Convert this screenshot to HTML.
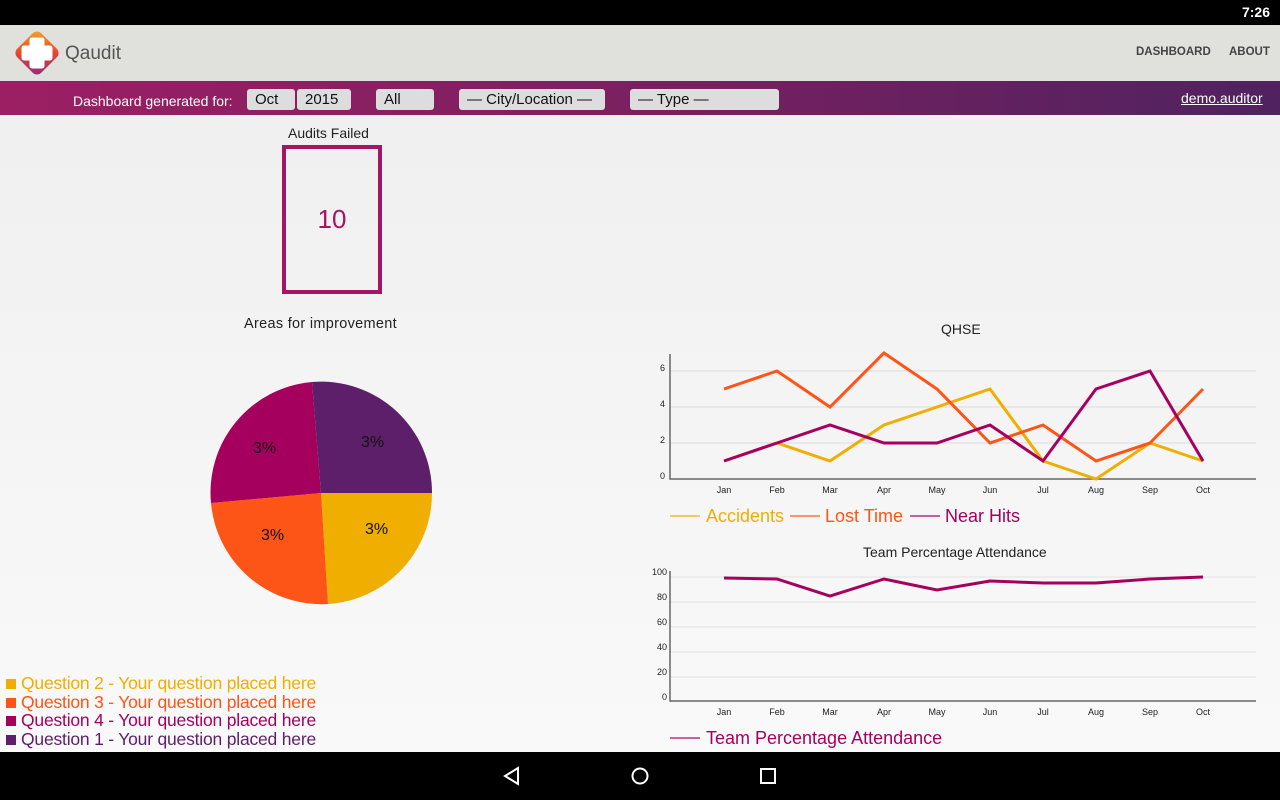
<!DOCTYPE html>
<html><head><style>
body{margin:0;width:1280px;height:800px;overflow:hidden;font-family:"Liberation Sans",sans-serif;background:linear-gradient(#eeeeee,#fafafa);position:relative}
.abs{position:absolute}
.sel{position:absolute;top:89px;height:21px;background:#ddd;border-radius:3px;font-size:15px;color:#111;line-height:22px;padding-left:8px;box-sizing:border-box}
.leg{position:absolute;left:6px;font-size:17.5px;letter-spacing:-0.2px}
.leg i{display:inline-block;width:10px;height:10px;margin-right:5px}
</style></head><body>
<div class="abs" style="left:0;top:0;width:1280px;height:25px;background:#000;color:#fff;font-size:14px"><span class="abs" style="right:10px;top:4px;font-weight:bold">7:26</span></div>
<div class="abs" style="left:0;top:25px;width:1280px;height:56px;background:#e0e0dc"></div>
<svg class="abs" style="left:12px;top:28px" width="50" height="50" viewBox="0 0 50 50">
<defs><linearGradient id="g" x1="0" y1="0" x2="1" y2="1"><stop offset="0" stop-color="#f7a823"/><stop offset="0.5" stop-color="#e5452f"/><stop offset="1" stop-color="#8a2a8a"/></linearGradient></defs>
<rect x="8" y="8" width="34" height="34" rx="6" transform="rotate(45 25 25)" fill="url(#g)"/>
<path d="M20 12h10v8h8v10h-8v8h-10v-8h-8v-10h8z" fill="#fff" stroke="#fff" stroke-linejoin="round" stroke-width="5"/>
</svg>
<div class="abs" style="left:65px;top:43px;font-size:19px;color:#555">Qaudit</div>
<div class="abs" style="left:1136px;top:46px;font-size:11.5px;font-weight:bold;color:#444">DASHBOARD</div>
<div class="abs" style="left:1229px;top:46px;font-size:11.5px;font-weight:bold;color:#444">ABOUT</div>
<div class="abs" style="left:0;top:81px;width:1280px;height:34px;background:linear-gradient(90deg,#9c1f63,#7a2060,#4f2260)"></div>
<div class="abs" style="left:73px;top:93px;font-size:14px;color:#fff">Dashboard generated for:</div>
<div class="sel" style="left:247px;width:48px">Oct</div>
<div class="sel" style="left:297px;width:54px">2015</div>
<div class="sel" style="left:376px;width:58px">All</div>
<div class="sel" style="left:459px;width:146px">— City/Location —</div>
<div class="sel" style="left:630px;width:149px">— Type —</div>
<div class="abs" style="left:1181px;top:90px;font-size:14px;color:#fff;text-decoration:underline">demo.auditor</div>
<div class="abs" style="left:288px;top:125px;font-size:14px;color:#222">Audits Failed</div>
<div class="abs" style="left:282px;top:145px;width:92px;height:141px;border:4px solid #a31565;text-align:center;line-height:141px;font-size:26px;color:#a31565">10</div>
<div class="abs" style="left:244px;top:316px;font-size:14.5px;color:#222;letter-spacing:0.3px">Areas for improvement</div>
<svg class="abs" style="left:0;top:0" width="1280" height="800">
<path d="M321 493 L432 493 A111 111 0 0 1 328 604 Z" fill="#f0ae00"/>
<path d="M321 493 L328 604 A111 111 0 0 1 211 503 Z" fill="#fd5418"/>
<path d="M321 493 L211 503 A111 111 0 0 1 312 382 Z" fill="#a6005f"/>
<path d="M321 493 L312 382 A111 111 0 0 1 432 493 Z" fill="#5e1f6a"/>
<g font-size="16" fill="#111" font-family="Liberation Sans"><text x="253" y="453">3%</text><text x="361" y="447">3%</text><text x="261" y="540">3%</text><text x="365" y="534">3%</text></g>
<text x="941" y="334" font-size="14" fill="#222">QHSE</text>
<g stroke="#e8e8e8" stroke-width="2"><line x1="670" y1="371" x2="1256" y2="371"/><line x1="670" y1="407" x2="1256" y2="407"/><line x1="670" y1="443" x2="1256" y2="443"/></g>
<path d="M670 354 V479 H1256" fill="none" stroke="#666" stroke-width="1.5"/>
<g font-size="9" fill="#222"><text x="660" y="371">6</text><text x="660" y="407">4</text><text x="660" y="443">2</text><text x="660" y="479">0</text>
<g text-anchor="middle"><text x="724" y="493">Jan</text><text x="777" y="493">Feb</text><text x="830" y="493">Mar</text><text x="884" y="493">Apr</text><text x="937" y="493">May</text><text x="990" y="493">Jun</text><text x="1043" y="493">Jul</text><text x="1096" y="493">Aug</text><text x="1150" y="493">Sep</text><text x="1203" y="493">Oct</text></g></g>
<g fill="none" stroke-width="3" stroke-linejoin="miter">
<polyline stroke="#f0ae00" points="724,461 777,443 830,461 884,425 937,407 990,389 1043,461 1096,479 1150,443 1203,461"/>
<polyline stroke="#fd5418" points="724,389 777,371 830,407 884,353 937,389 990,443 1043,425 1096,461 1150,443 1203,389"/>
<polyline stroke="#a6005f" points="724,461 777,443 830,425 884,443 937,443 990,425 1043,461 1096,389 1150,371 1203,461"/>
</g>
<line x1="670" y1="516" x2="700" y2="516" stroke="#f0ae00" stroke-opacity=".6" stroke-width="2"/>
<text x="706" y="522" font-size="18" fill="#f0ae00">Accidents</text>
<line x1="790" y1="516" x2="820" y2="516" stroke="#fd5418" stroke-opacity=".6" stroke-width="2"/>
<text x="825" y="522" font-size="18" fill="#fd5418">Lost Time</text>
<line x1="910" y1="516" x2="940" y2="516" stroke="#a6005f" stroke-opacity=".6" stroke-width="2"/>
<text x="945" y="522" font-size="18" fill="#a6005f">Near Hits</text>
<text x="863" y="557" font-size="14" fill="#222">Team Percentage Attendance</text>
<g stroke="#e8e8e8" stroke-width="1.5"><line x1="670" y1="577" x2="1256" y2="577"/><line x1="670" y1="602" x2="1256" y2="602"/><line x1="670" y1="627" x2="1256" y2="627"/><line x1="670" y1="652" x2="1256" y2="652"/><line x1="670" y1="677" x2="1256" y2="677"/></g>
<path d="M670 571 V701 H1256" fill="none" stroke="#666" stroke-width="1.5"/>
<g font-size="9" fill="#222" text-anchor="end"><text x="667" y="575">100</text><text x="667" y="600">80</text><text x="667" y="625">60</text><text x="667" y="650">40</text><text x="667" y="675">20</text><text x="667" y="700">0</text></g>
<g font-size="9" fill="#222" text-anchor="middle"><text x="724" y="715">Jan</text><text x="777" y="715">Feb</text><text x="830" y="715">Mar</text><text x="884" y="715">Apr</text><text x="937" y="715">May</text><text x="990" y="715">Jun</text><text x="1043" y="715">Jul</text><text x="1096" y="715">Aug</text><text x="1150" y="715">Sep</text><text x="1203" y="715">Oct</text></g>
<polyline fill="none" stroke="#a6005f" stroke-width="3" points="724,578 777,579 830,596 884,579 937,590 990,581 1043,583 1096,583 1150,579 1203,577"/>
<line x1="670" y1="738" x2="700" y2="738" stroke="#a6005f" stroke-opacity=".6" stroke-width="2"/>
<text x="706" y="744" font-size="18" fill="#a6005f">Team Percentage Attendance</text>
</svg>
<div class="leg" style="top:673px;color:#f0ae00"><i style="background:#f0ae00"></i>Question 2 - Your question placed here</div>
<div class="leg" style="top:692px;color:#fd5418"><i style="background:#fd5418"></i>Question 3 - Your question placed here</div>
<div class="leg" style="top:710px;color:#a6005f"><i style="background:#a6005f"></i>Question 4 - Your question placed here</div>
<div class="leg" style="top:729px;color:#5e1f6a"><i style="background:#5e1f6a"></i>Question 1 - Your question placed here</div>
<div class="abs" style="left:0;top:752px;width:1280px;height:48px;background:#000"></div>
<svg class="abs" style="left:0;top:752px" width="1280" height="48"><g fill="none" stroke="#fff" stroke-width="2"><path d="M518 16 L505 24 L518 32 Z"/><circle cx="640" cy="24" r="7.5"/><rect x="761" y="17" width="14" height="14"/></g></svg>
</body></html>
